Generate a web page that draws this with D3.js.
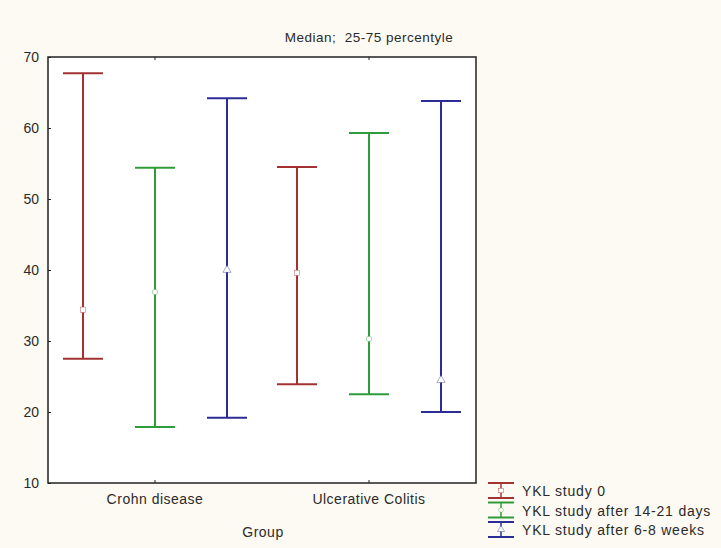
<!DOCTYPE html>
<html>
<head>
<meta charset="utf-8">
<script src="https://cdn.jsdelivr.net/npm/d3@7"></script>
<style>
  body { margin: 0; background: #fdfaf3; }
  text { font-family: "Liberation Sans", Arial, sans-serif; fill: #2a2a2a; }
</style>
</head>
<body>
<svg id="chart" width="721" height="548"></svg>
<script>
// ------------------- données -------------------
var groupes = ["Crohn disease", "Ulcerative Colitis"];
var series = ["YKL study 0", "YKL study after 14-21 days", "YKL study after 6-8 weeks"];
var couleurs = ["#a33333", "#2f9c3a", "#2c2c96"];
var symboles = ["square", "circle", "triangle"];

// [groupe][serie]
var medianes = [[34.4, 36.9, 40.0], [39.6, 30.3, 24.5]];
var p25 = [[27.5, 17.9, 19.2], [23.9, 22.5, 20.0]];
var p75 = [[67.7, 54.4, 64.2], [54.5, 59.3, 63.8]];
var yTicks = [10, 20, 30, 40, 50, 60, 70];

// ------------------- dessin -------------------
var svg = d3.select("#chart");
var marge = {left: 48, top: 57, right: 476, bottom: 483};

var x = d3.scaleBand().domain(groupes).range([marge.left, marge.right]);
var xs = d3.scalePoint().domain(series).range([-72, 72]);
var y = d3.scaleLinear().domain([10, 70]).range([marge.bottom, marge.top]);

svg.append("rect")
    .attr("x", marge.left).attr("y", marge.top)
    .attr("width", marge.right - marge.left).attr("height", marge.bottom - marge.top)
    .attr("fill", "#fff");

function marqueur(g, type, cx, cy, coul, r) {
    if (type == "square") {
        g.append("rect").attr("x", cx - r).attr("y", cy - r).attr("width", 2 * r).attr("height", 2 * r)
            .attr("fill", "#fff").attr("stroke", coul).attr("stroke-width", 0.4);
    } else if (type == "circle") {
        g.append("circle").attr("cx", cx).attr("cy", cy).attr("r", r)
            .attr("fill", "#fff").attr("stroke", coul).attr("stroke-width", 0.4);
    } else {
        g.append("path").attr("d", d3.symbol().type(d3.symbolTriangle).size(r * r * 4)())
            .attr("transform", "translate(" + cx + "," + cy + ")")
            .attr("fill", "#fff").attr("stroke", coul).attr("stroke-width", 0.4);
    }
}

var barres = svg.append("g");
groupes.forEach(function(gr, i) {
    series.forEach(function(s, j) {
        var cx = x(gr) + x.bandwidth() / 2 + xs(s);
        var coul = couleurs[j];
        barres.append("line").attr("x1", cx).attr("x2", cx)
            .attr("y1", y(p25[i][j])).attr("y2", y(p75[i][j]))
            .attr("stroke", coul).attr("stroke-width", 2);
        [p25[i][j], p75[i][j]].forEach(function(v) {
            barres.append("line").attr("x1", cx - 20).attr("x2", cx + 20)
                .attr("y1", y(v)).attr("y2", y(v))
                .attr("stroke", coul).attr("stroke-width", 2);
        });
        marqueur(barres, symboles[j], cx, y(medianes[i][j]), coul, 2.7);
    });
});

// axes
svg.append("g")
    .attr("transform", "translate(" + marge.left + ",0)")
    .call(d3.axisLeft(y).tickValues(yTicks).tickSize(-3).tickPadding(9))
    .call(function(g) {
        g.select(".domain").remove();
        g.selectAll("line").attr("stroke", "#222");
        g.selectAll("text").style("font-size", "14px").attr("fill", "#2a2a2a");
    });

svg.append("g")
    .attr("transform", "translate(0," + marge.bottom + ")")
    .call(d3.axisBottom(x).tickSize(-3).tickPadding(11))
    .call(function(g) {
        g.select(".domain").remove();
        g.selectAll("line").attr("stroke", "#222");
        g.selectAll("text").style("font-size", "14px").style("letter-spacing", "0.5px").attr("fill", "#2a2a2a");
    });

svg.append("g")
    .attr("transform", "translate(0," + marge.top + ")")
    .call(d3.axisTop(x).tickSize(-3).tickFormat(""))
    .call(function(g) {
        g.select(".domain").remove();
        g.selectAll("line").attr("stroke", "#222");
    });

svg.append("rect")
    .attr("x", marge.left).attr("y", marge.top)
    .attr("width", marge.right - marge.left).attr("height", marge.bottom - marge.top)
    .attr("fill", "none").attr("stroke", "#222").attr("stroke-width", 1.5);

// titres
svg.append("text").attr("x", 369).attr("y", 42).attr("text-anchor", "middle")
    .style("font-size", "13.5px").style("letter-spacing", "0.5px")
    .attr("xml:space", "preserve").text("Median;  25-75 percentyle");

svg.append("text").attr("x", 263).attr("y", 537).attr("text-anchor", "middle")
    .style("font-size", "14px").style("letter-spacing", "0.5px").text("Group");

// légende
var legende = svg.append("g");
series.forEach(function(s, j) {
    var y0 = 483 + j * 19.5;
    var coul = couleurs[j];
    var cx = 501;
    legende.append("line").attr("x1", cx).attr("x2", cx).attr("y1", y0).attr("y2", y0 + 15)
        .attr("stroke", coul).attr("stroke-width", 1.5);
    [y0, y0 + 15].forEach(function(v) {
        legende.append("line").attr("x1", cx - 13).attr("x2", cx + 13).attr("y1", v).attr("y2", v)
            .attr("stroke", coul).attr("stroke-width", 2);
    });
    marqueur(legende, symboles[j], cx, y0 + 7.5, coul, 2.3);
    legende.append("text").attr("x", 522).attr("y", y0 + 13)
        .style("font-size", "14px").style("letter-spacing", "0.8px").text(s);
});
</script>
</body>
</html>
